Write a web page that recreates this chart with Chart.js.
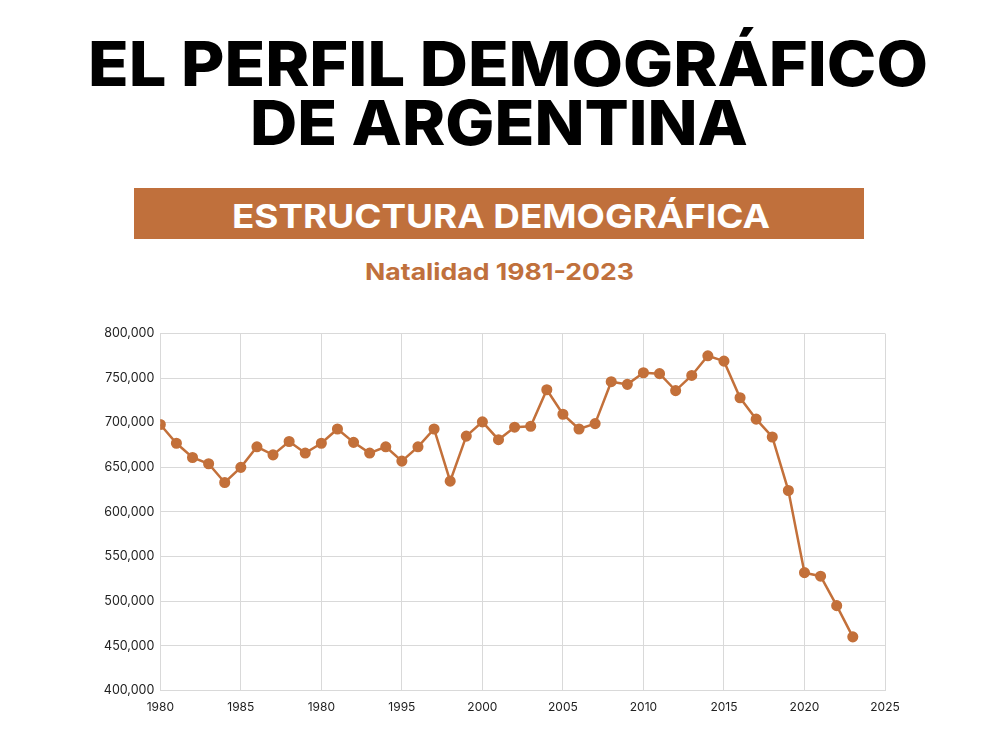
<!DOCTYPE html>
<html><head><meta charset="utf-8">
<script src="https://cdn.jsdelivr.net/npm/chart.js@4.4.1/dist/chart.umd.min.js"></script>
<style>
html,body{margin:0;padding:0;background:#fff;width:992px;height:756px;overflow:hidden;font-family:Inter,"Open Sans",sans-serif}
.t{position:absolute;left:0;white-space:nowrap;transform-origin:0 0;line-height:1}
#title1,#title2{font-weight:800;font-size:62px;color:#000}
#title1{top:33px}
#title2{top:92px}
#banner{position:absolute;left:134px;top:188px;width:730px;height:51px;background:#C0703C}
#banner-text{font-weight:700;font-size:33px;color:#fff;top:200px}
#sub{font-weight:700;font-size:23px;color:#C0703C;top:261px}
#wrap{position:absolute;left:0;top:320px;width:992px;height:400px}
</style>
</head>
<body>
<div id="title1" class="t">EL PERFIL DEMOGRÁFICO</div>
<div id="title2" class="t">DE ARGENTINA</div>
<div id="banner"></div>
<div id="banner-text" class="t">ESTRUCTURA DEMOGRÁFICA</div>
<div id="sub" class="t">Natalidad 1981-2023</div>
<div id="wrap"><canvas id="c"></canvas></div>
<script>
const years = [1980,1981,1982,1983,1984,1985,1986,1987,1988,1989,
  1990,1991,1992,1993,1994,1995,1996,1997,1998,1999,
  2000,2001,2002,2003,2004,2005,2006,2007,2008,2009,
  2010,2011,2012,2013,2014,2015,2016,2017,2018,2019,
  2020,2021,2022,2023];
const births = [698000,677000,661000,654000,633000,650000,673000,664000,679000,666000,
  677000,693000,678000,666000,673000,657000,673000,693000,634500,685000,
  701000,681000,695000,696000,737000,709500,693000,699000,746000,743000,
  756000,755000,736000,753000,775000,769000,728000,704000,684000,624000,
  532000,528000,495000,460000];
const xTickValues = [1980,1985,1990,1995,2000,2005,2010,2015,2020,2025];
const xTickLabels = ['1980','1985','1980','1995','2000','2005','2010','2015','2020','2025'];

function fit(id, left, width){
  const el = document.getElementById(id);
  const w = el.getBoundingClientRect().width;
  el.style.left = left + 'px';
  el.style.transform = 'scaleX(' + (width / w) + ')';
}
fit('title1', 88, 840);
fit('title2', 250, 498);
fit('banner-text', 232, 538);
fit('sub', 365, 269);

const color = '#C3703A';
const grid = {color:'#d9d9d9', lineWidth:1, drawTicks:false};
new Chart(document.getElementById('c'), {
  type:'line',
  data:{datasets:[{
    data: years.map((y,i)=>({x:y, y:births[i]})),
    borderColor:color, backgroundColor:color,
    borderWidth:2.5, pointRadius:4.3, pointHoverRadius:4.3,
    pointBackgroundColor:color, pointBorderColor:color, tension:0
  }]},
  options:{
    responsive:true, maintainAspectRatio:false, animation:false,
    layout:{padding:{top:13.3, right:107, left:0, bottom:0}},
    plugins:{legend:{display:false}, tooltip:{enabled:false}},
    scales:{
      x:{type:'linear', min:1980, max:2025,
        afterBuildTicks: s => { s.ticks = xTickValues.map(v=>({value:v})); },
        afterFit: s => { s.height = 29.6; },
        grid: grid, border:{display:true, color:'#d9d9d9'},
        ticks:{padding:10, color:'#222', font:{family:'Inter', size:12},
          callback: v => { const i = xTickValues.indexOf(v); return i >= 0 ? xTickLabels[i] : ''; },
          maxRotation:0, autoSkip:false}
      },
      y:{min:400000, max:800000,
        afterFit: s => { s.width = 160.3; },
        grid: grid, border:{display:true, color:'#d9d9d9'},
        ticks:{stepSize:50000, padding:6, color:'#222', font:{family:'Inter', size:12.5},
          callback: v => v.toLocaleString('en-US')}
      }
    }
  }
});
</script>
</body></html>
